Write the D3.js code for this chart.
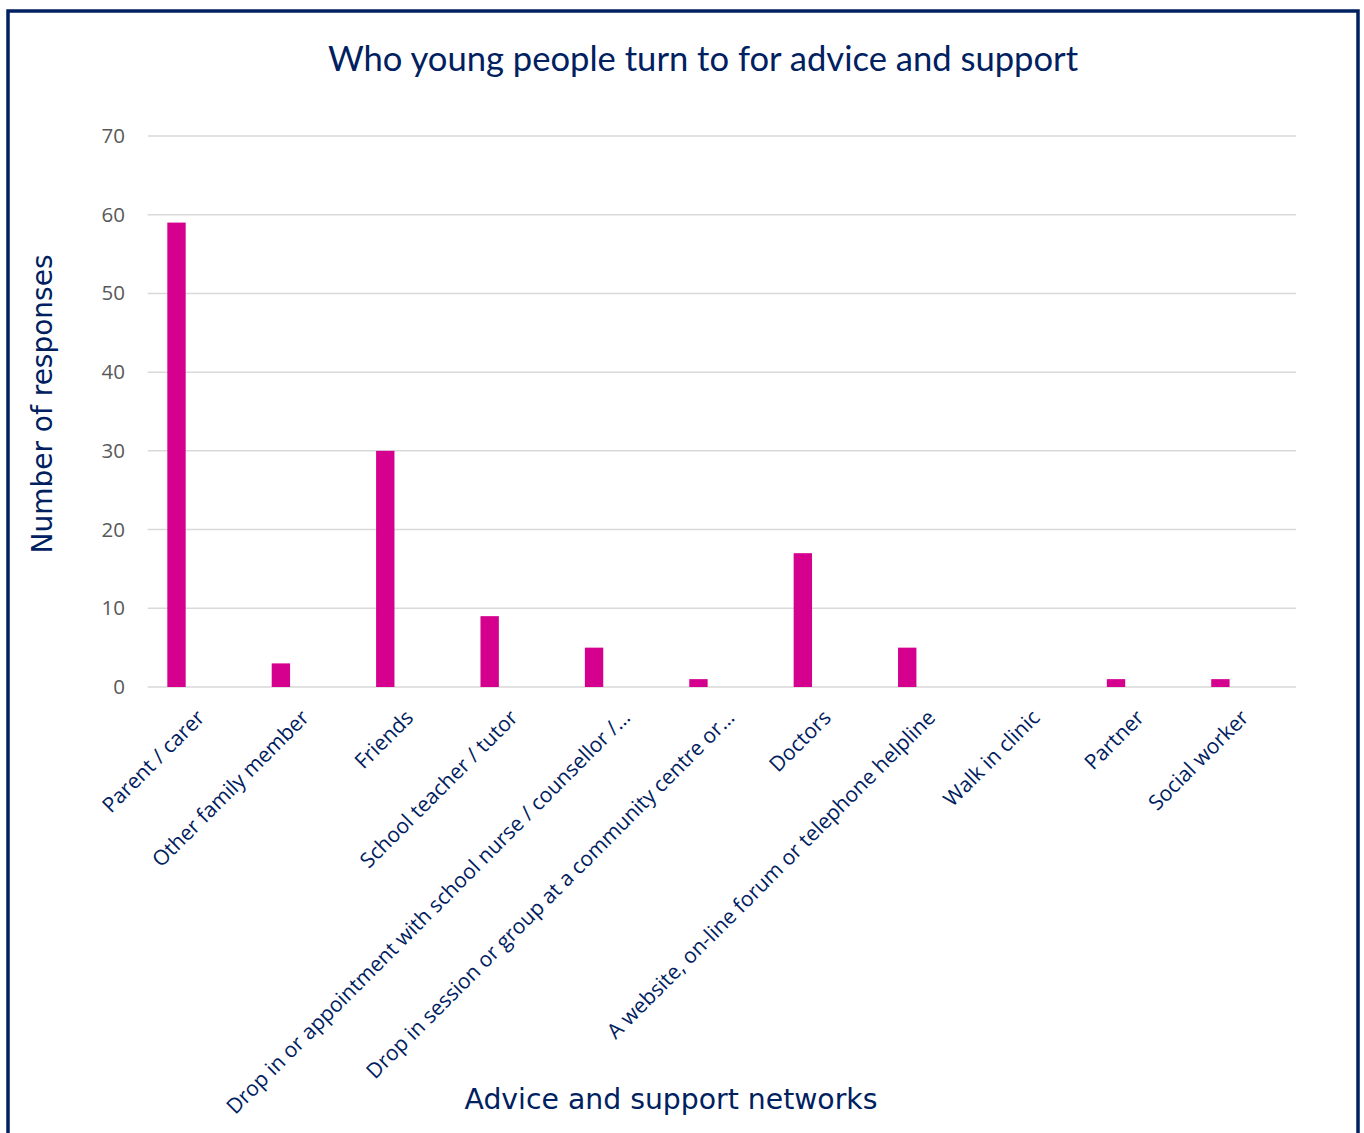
<!DOCTYPE html>
<html>
<head>
<meta charset="utf-8">
<script src="https://cdn.jsdelivr.net/npm/d3@7"></script>
<style>
  body { margin: 0; background: #fff; }
  svg { display: block; }
</style>
</head>
<body>
<svg id="chart" width="1364" height="1133"></svg>
<script>
// data
var categories = [
  "Parent / carer",
  "Other family member",
  "Friends",
  "School teacher / tutor",
  "Drop in or appointment with school nurse / counsellor /\u2026",
  "Drop in session or group at a community centre or\u2026",
  "Doctors",
  "A website, on-line forum or telephone helpline",
  "Walk in clinic",
  "Partner",
  "Social worker"
];
var responses = [59, 3, 30, 9, 5, 1, 17, 5, 0, 1, 1];
var yTicks = [0, 10, 20, 30, 40, 50, 60, 70];

var navy = "#002060",
    barColor = "#d6008f",
    gridColor = "#d9d9d9";

var svg = d3.select("svg#chart"),
    plotLeft = 147.7, plotRight = 1296, plotTop = 136, plotBottom = 687;

// frame
svg.append("rect")
    .attr("x", 8).attr("y", 11)
    .attr("width", 1350).attr("height", 1200)
    .attr("fill", "none")
    .attr("stroke", navy)
    .attr("stroke-width", 3.5);

var y = d3.scaleLinear().domain([0, 70]).range([plotBottom, plotTop]);

// category bands (label positions)
var xCat = d3.scaleBand().domain(categories).range([plotLeft, plotRight]).padding(0);

// bars sit left of centre as in the original clustered layout
var xBar = d3.scaleBand().domain(categories).range([plotLeft, plotRight])
    .paddingInner(0.824).paddingOuter(0.412).align(0.228);

// gridlines
svg.append("g")
    .selectAll("line")
    .data(yTicks)
    .enter().append("line")
      .attr("x1", plotLeft).attr("x2", plotRight)
      .attr("y1", function(d) { return y(d); })
      .attr("y2", function(d) { return y(d); })
      .attr("stroke", gridColor)
      .attr("stroke-width", 1.5);

// y axis labels
var yAxis = svg.append("g")
    .attr("transform", "translate(" + 125 + ",0)")
    .call(d3.axisLeft(y).tickValues(yTicks).tickSize(0).tickPadding(0));
yAxis.select(".domain").remove();
yAxis.selectAll("text")
    .attr("fill", "#595959")
    .style("font-family", "'Open Sans', sans-serif")
    .style("font-size", "20.5px");

// bars
svg.append("g")
    .selectAll("rect")
    .data(responses)
    .enter().append("rect")
      .attr("x", function(d, i) { return xBar(categories[i]); })
      .attr("width", xBar.bandwidth())
      .attr("y", function(d) { return y(d); })
      .attr("height", function(d) { return y(0) - y(d); })
      .attr("fill", barColor);

// category labels (truncated ones sit a little further right, as excel does)
svg.append("g")
    .selectAll("text")
    .data(categories)
    .enter().append("text")
      .attr("transform", function(d) {
        var shift = d.slice(-1) === "\u2026" ? 14 : 6;
        return "translate(" + (xCat(d) + xCat.bandwidth() / 2 + shift) + "," + 719 + ") rotate(-45)";
      })
      .attr("text-anchor", "end")
      .attr("fill", navy)
      .style("font-family", "'Open Sans', sans-serif")
      .style("font-size", "21px")
      .text(function(d) { return d; });

// title
svg.append("text")
    .attr("x", 703).attr("y", 71)
    .attr("text-anchor", "middle")
    .attr("fill", navy)
    .style("font-family", "Lato, sans-serif")
    .style("font-size", "34.6px")
    .text("Who young people turn to for advice and support");

// axis titles
svg.append("text")
    .attr("transform", "translate(52,404) rotate(-90)")
    .attr("text-anchor", "middle")
    .attr("fill", navy)
    .style("font-family", "'DejaVu Sans', sans-serif")
    .style("font-size", "28px")
    .text("Number of responses");

svg.append("text")
    .attr("x", 671).attr("y", 1109)
    .attr("text-anchor", "middle")
    .attr("fill", navy)
    .style("font-family", "'DejaVu Sans', sans-serif")
    .style("font-size", "28.3px")
    .text("Advice and support networks");
</script>
</body>
</html>
